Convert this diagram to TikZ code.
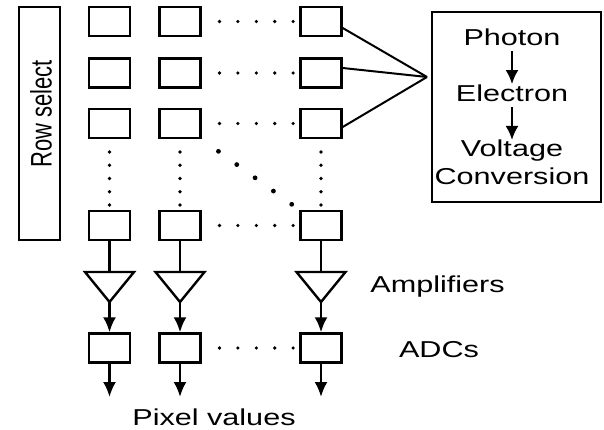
\documentclass[tikz,border=0pt]{standalone}
\usepackage{fontspec}
\setmainfont{Liberation Sans}[FakeStretch=1.33]
\newfontfamily\rowfont{Liberation Sans}
\usetikzlibrary{arrows.meta,calc}

\begin{document}
\begin{tikzpicture}[
  x=1pt, y=-1pt,
  pix/.style={draw=black, line width=2.4pt, minimum width=41pt, minimum height=29pt, inner sep=0pt},
  lbl/.style={inner sep=0pt, font=\fontsize{23}{28}\selectfont},
  wire/.style={line width=2.4pt},
  flow/.style={line width=2.4pt, -{Latex[length=15pt,width=13pt]}},
  hdots/.style={line width=3.6pt, line cap=round, dash pattern=on 0pt off 18.4pt, shorten <=17.8pt, shorten >=5.8pt},
  vdots/.style={line width=3.6pt, line cap=round, dash pattern=on 0pt off 13.25pt, shorten <=12.8pt, shorten >=4.3pt}
]

  \useasboundingbox (0,0) rectangle (604,430);

  % Bloque de selección de fila
  \node[draw=black, line width=2.4pt, minimum width=41pt, minimum height=233pt, inner sep=0pt] (rowsel) at (39.5,123.5) {};
  \node[rotate=90, inner sep=0pt, font=\rowfont\fontsize{22}{26}\selectfont] (rowtxt) at (41,114) {\scalebox{1}[1.35]{Row select}};

  % Matriz de píxeles
  \node[pix] (p11) at (109.5,21.5) {};
  \node[pix] (p12) at (180,21.5) {};
  \node[pix] (p13) at (321,21.5) {};
  \node[pix] (p21) at (109.5,73) {};
  \node[pix] (p22) at (180,73) {};
  \node[pix] (p23) at (321,73) {};
  \node[pix] (p31) at (109.5,123.5) {};
  \node[pix] (p32) at (180,123.5) {};
  \node[pix] (p33) at (321,123.5) {};
  \node[pix] (p41) at (109.5,225.5) {};
  \node[pix] (p42) at (180,225.5) {};
  \node[pix] (p43) at (321,225.5) {};

  % Puntos suspensivos de la matriz
  \draw[hdots] (p12) -- (p13);
  \draw[hdots] (p22) -- (p23);
  \draw[hdots] (p32) -- (p33);
  \draw[hdots] (p42) -- (p43);
  \draw[vdots] (p31) -- (p41);
  \draw[vdots] (p32) -- (p42);
  \draw[vdots] (p33) -- (p43);
  \draw[line width=4.8pt, line cap=round, dash pattern=on 0pt off 22.6pt, shorten <=20.7pt, shorten >=8.4pt] (p32.south east) -- (p43.north west);

  % Amplificadores
  \coordinate (a1t) at (109.5,272);
  \coordinate (a1b) at (109.5,302);
  \coordinate (a2t) at (180,272);
  \coordinate (a2b) at (180,302);
  \coordinate (a3t) at (321,272);
  \coordinate (a3b) at (321,302);
  \draw[wire, line join=miter] (85,272) -- (134,272) -- (a1b) -- cycle;
  \draw[wire, line join=miter] (155.5,272) -- (204.5,272) -- (a2b) -- cycle;
  \draw[wire, line join=miter] (296.5,272) -- (345.5,272) -- (a3b) -- cycle;
  \draw[wire] (p41) -- (a1t);
  \draw[wire] (p42) -- (a2t);
  \draw[wire] (p43) -- (a3t);

  % Convertidores ADC
  \node[pix] (adc1) at (109.5,348) {};
  \node[pix] (adc2) at (180,348) {};
  \node[pix] (adc3) at (321,348) {};
  \draw[hdots] (adc2) -- (adc3);
  \draw[flow] (a1b) -- (adc1);
  \draw[flow] (a2b) -- (adc2);
  \draw[flow] (a3b) -- (adc3);

  % Salidas
  \coordinate (o1) at (109.5,397);
  \coordinate (o2) at (180,397);
  \coordinate (o3) at (321,397);
  \draw[flow] (adc1) -- (o1);
  \draw[flow] (adc2) -- (o2);
  \draw[flow] (adc3) -- (o3);

  % Etiquetas
  \node[lbl, anchor=base] (amptxt) at (437.5,292) {Amplifiers};
  \node[lbl, anchor=base] (adctxt) at (439,357) {ADCs};
  \node[lbl, anchor=base] (outtxt) at (214,425) {Pixel values};

  % Caja de conversión
  \node[draw=black, line width=1.6pt, minimum width=169pt, minimum height=190pt, inner sep=0pt] (chain) at (516.5,107) {};
  \node[lbl, anchor=base] (photon) at (512,46) {Photon};
  \node[lbl, anchor=base] (electron) at (512,102) {Electron};
  \node[lbl, anchor=north, align=center] (voltage) at (512,140) {Voltage\\Conversion};
  \draw[line width=2.4pt, -{Latex[length=14pt,width=13pt]}, shorten <=5pt, shorten >=1pt] (photon) -- (electron);
  \draw[line width=2.4pt, -{Latex[length=14pt,width=13pt]}, shorten <=5pt] (electron) -- (voltage);

  % Líneas hacia la caja
  \coordinate (focus) at (427,77);
  \draw[line width=2pt] ($(p13.east)+(0,6.5)$) -- (focus);
  \draw[line width=2pt] ($(p23.east)+(0,-5)$) -- (focus);
  \draw[line width=2pt] ($(p33.east)+(0,3.5)$) -- (focus);

\end{tikzpicture}
\end{document}
